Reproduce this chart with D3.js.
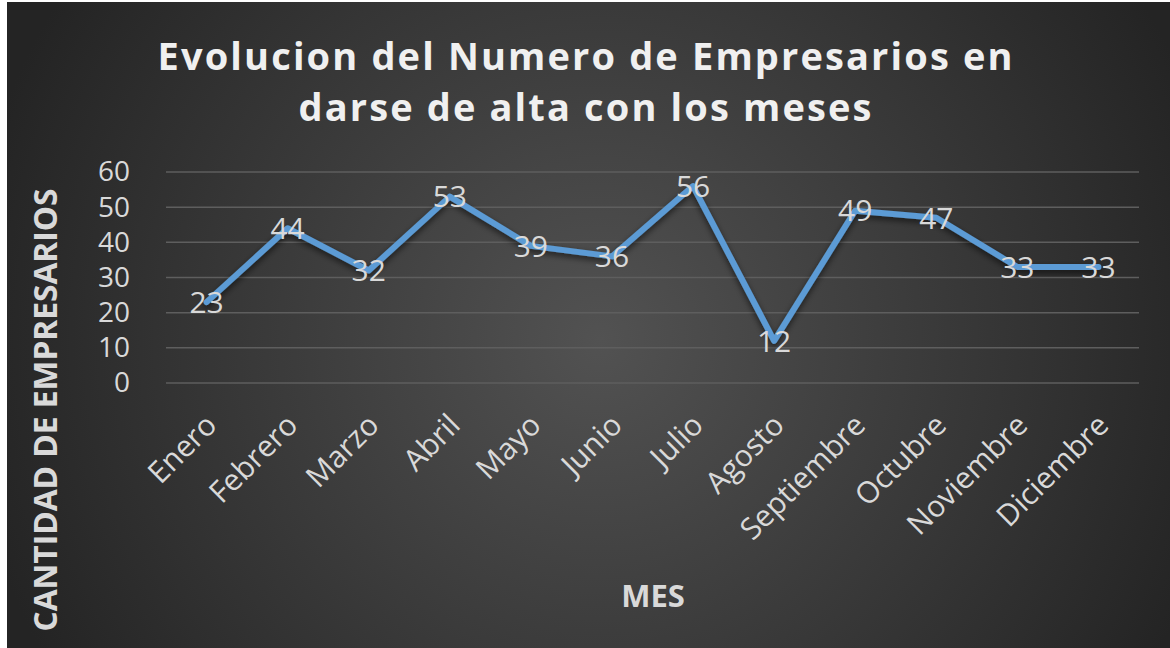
<!DOCTYPE html>
<html>
<head>
<meta charset="utf-8">
<script src="https://cdn.jsdelivr.net/npm/d3@7"></script>
<style>
  html, body { margin: 0; padding: 0; background: #fff; }
  svg { display: block; }
</style>
</head>
<body>
<div id="chart"></div>
<script>
const months = ['Enero', 'Febrero', 'Marzo', 'Abril', 'Mayo', 'Junio', 'Julio',
  'Agosto', 'Septiembre', 'Octubre', 'Noviembre', 'Diciembre'];
const empresarios = [23, 44, 32, 53, 39, 36, 56, 12, 49, 47, 33, 33];
const yTicks = [0, 10, 20, 30, 40, 50, 60];
const titleLines = ['Evolucion del Numero de Empresarios en', 'darse de alta con los meses'];

const W = 1170, H = 648;
const margin = { top: 172, right: 31, bottom: 265, left: 166 };
const width = W - margin.left - margin.right;
const height = H - margin.top - margin.bottom;
const textColor = '#d9d9d9';
const lineColor = '#5b9bd5';
const font = '"Open Sans", sans-serif';

const svg = d3.select('#chart')
  .append('svg')
  .attr('width', W)
  .attr('height', H);

const defs = svg.append('defs');
const grad = defs.append('radialGradient')
  .attr('id', 'bg')
  .attr('gradientUnits', 'userSpaceOnUse')
  .attr('cx', 600).attr('cy', 340).attr('r', 640);
grad.append('stop').attr('offset', '0%').attr('stop-color', '#525252');
grad.append('stop').attr('offset', '100%').attr('stop-color', '#242424');

const shadow = defs.append('filter').attr('id', 'shadow')
  .attr('x', '-10%').attr('y', '-10%').attr('width', '120%').attr('height', '130%');
shadow.append('feDropShadow')
  .attr('dx', 0).attr('dy', 3).attr('stdDeviation', 3)
  .attr('flood-color', '#000').attr('flood-opacity', 0.6);

svg.append('rect')
  .attr('x', 7).attr('y', 2)
  .attr('width', W - 7).attr('height', H - 2)
  .attr('fill', 'url(#bg)');

const g = svg.append('g')
  .attr('transform', `translate(${margin.left},${margin.top})`);

const x = d3.scaleBand()
  .domain(months)
  .range([0, width]);

const y = d3.scaleLinear()
  .domain([0, 60])
  .range([height, 0]);

// gridlines
g.append('g')
  .selectAll('line')
  .data(yTicks)
  .join('line')
  .attr('x1', 0).attr('x2', width)
  .attr('y1', d => y(d)).attr('y2', d => y(d))
  .attr('stroke', '#5e5e5e')
  .attr('stroke-width', 1.5);

// y axis
const yAxis = g.append('g')
  .call(d3.axisLeft(y).tickValues(yTicks).tickSize(0).tickPadding(36));
yAxis.select('.domain').remove();
yAxis.selectAll('text')
  .attr('fill', textColor)
  .style('font-family', font)
  .style('font-size', '28px');

// x axis
const xAxis = g.append('g')
  .attr('transform', `translate(0,${height})`)
  .call(d3.axisBottom(x).tickSize(0).tickPadding(0));
xAxis.select('.domain').remove();
xAxis.selectAll('text')
  .attr('fill', textColor)
  .style('font-family', font)
  .style('font-size', '30px')
  .attr('text-anchor', 'end')
  .attr('dy', 0)
  .attr('transform', 'translate(12,44) rotate(-45)');

// line
const line = d3.line()
  .x((d, i) => x(months[i]) + x.bandwidth() / 2)
  .y(d => y(d));

g.append('path')
  .datum(empresarios)
  .attr('d', line)
  .attr('fill', 'none')
  .attr('stroke', lineColor)
  .attr('stroke-width', 6)
  .attr('stroke-linejoin', 'round')
  .attr('stroke-linecap', 'round')
  .attr('filter', 'url(#shadow)');

// data labels
g.append('g')
  .selectAll('text')
  .data(empresarios)
  .join('text')
  .attr('x', (d, i) => x(months[i]) + x.bandwidth() / 2)
  .attr('y', d => y(d))
  .attr('dy', '0.36em')
  .attr('text-anchor', 'middle')
  .attr('fill', textColor)
  .style('font-family', font)
  .style('font-size', '30px')
  .text(d => d);

// title
const titleWidths = [855, 573];
svg.append('g')
  .selectAll('text')
  .data(titleLines)
  .join('text')
  .attr('x', 585)
  .attr('y', (d, i) => 70 + i * 51)
  .attr('text-anchor', 'middle')
  .attr('fill', '#f0f0f0')
  .attr('textLength', (d, i) => titleWidths[i])
  .attr('lengthAdjust', 'spacing')
  .style('font-family', font)
  .style('font-weight', 'bold')
  .style('font-size', '38px')
  .text(d => d);

// axis titles
svg.append('text')
  .attr('x', 653)
  .attr('y', 607)
  .attr('text-anchor', 'middle')
  .attr('fill', textColor)
  .style('font-family', font)
  .style('font-weight', 'bold')
  .style('font-size', '31px')
  .text('MES');

svg.append('text')
  .attr('transform', 'translate(57,410) rotate(-90)')
  .attr('text-anchor', 'middle')
  .attr('fill', textColor)
  .attr('textLength', 443)
  .attr('lengthAdjust', 'spacingAndGlyphs')
  .style('font-family', font)
  .style('font-weight', 'bold')
  .style('font-size', '32px')
  .text('CANTIDAD DE EMPRESARIOS');
</script>
</body>
</html>
